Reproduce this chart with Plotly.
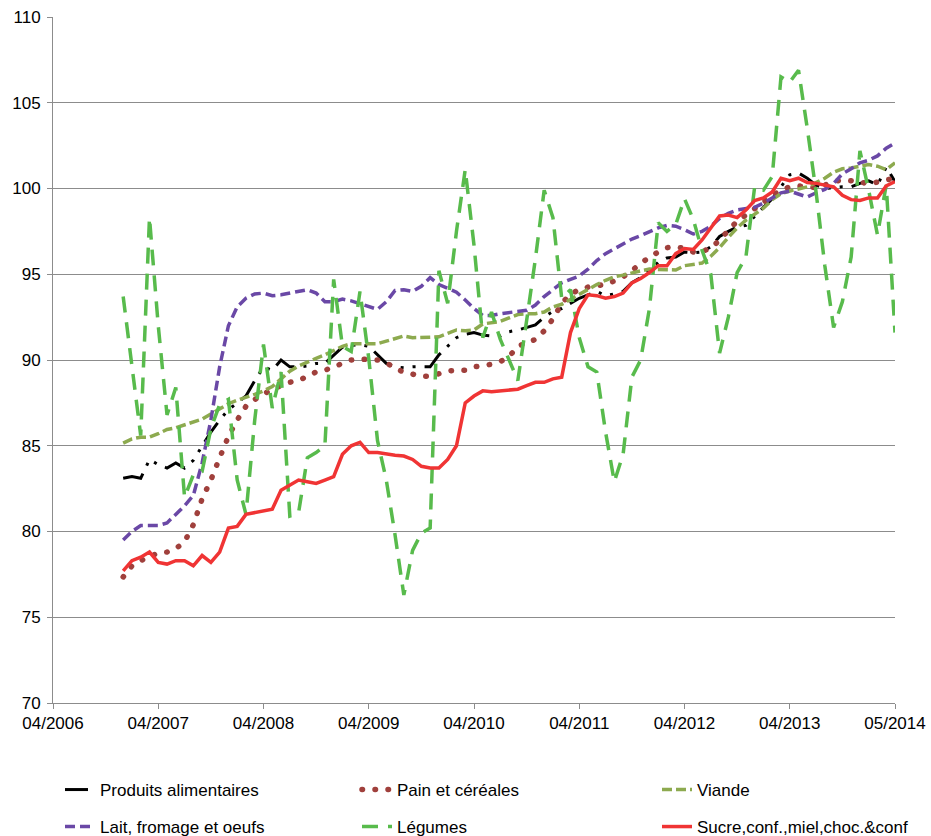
import plotly.graph_objects as go

# ---------------- data (monthly index values) ----------------
first_month_index = 8   # months after 04/2006 of the first observation

produits = [83.1, 83.2,
            83.1, 84.2, 83.9, 83.7, 84.0, 83.7, 84.15, 84.95, 85.8, 86.5,
            87.1, 87.5, 87.9, 88.8, 89.6, 89.4, 90.0, 89.6, 89.6, 89.65,
            89.8, 89.8, 90.3, 90.75, 90.85, 90.9, 90.8, 90.3, 89.8, 89.6,
            89.55, 89.6, 89.6, 89.6, 90.3, 90.8, 91.3, 91.5, 91.6, 91.45,
            91.4, 91.4, 91.65, 91.75, 91.9, 92.05, 92.5, 92.85, 93.0, 93.3,
            93.6, 93.8, 94.0, 93.75, 93.85, 94.0, 94.5, 94.8, 95.2, 95.7,
            95.95, 96.0, 96.3, 96.25, 96.3, 96.6, 97.2, 97.5, 97.75, 97.85,
            98.4, 98.9, 99.4, 100.1, 100.8, 100.9, 100.6, 100.2, 100.0, 100.05,
            100.1, 100.1, 100.3, 100.45, 100.2, 101.25, 100.4]

pain = [77.35, 78.0,
        78.3, 78.55, 78.75, 78.8, 79.0, 79.4, 80.4, 81.9, 83.0, 84.3,
        85.55, 86.5, 87.3, 87.7, 88.0, 88.3, 88.5, 88.7, 88.8, 89.05,
        89.3, 89.4, 89.6, 89.85, 90.0, 90.05, 90.05, 90.0, 89.85, 89.5,
        89.3, 89.15, 89.05, 89.05, 89.2, 89.35, 89.4, 89.4, 89.6, 89.65,
        89.75, 89.9, 90.2, 90.8, 91.0, 91.2, 91.7, 92.4, 93.3, 93.85,
        94.1, 94.25, 94.3, 94.45, 94.6, 94.85, 95.2, 95.65, 96.0, 96.3,
        96.55, 96.6, 96.5, 96.3, 96.35, 96.5, 97.0, 97.6, 98.1, 98.45,
        98.8, 99.2, 99.6, 99.9, 100.1, 100.15, 100.1, 100.05, 100.2, 100.4,
        100.5, 100.45, 100.4, 100.25, 100.4, 100.5, 100.6]

viande = [85.15, 85.4,
          85.5, 85.5, 85.7, 85.95, 86.05, 86.2, 86.35, 86.55, 86.85, 87.15,
          87.45, 87.65, 87.8, 88.0, 88.2, 88.45, 88.9, 89.35, 89.65, 89.9,
          90.1, 90.3, 90.55, 90.8, 90.95, 90.95, 90.95, 90.95, 91.1, 91.25,
          91.4, 91.3, 91.3, 91.35, 91.35, 91.55, 91.75, 91.7, 91.75, 92.1,
          92.2, 92.25, 92.45, 92.65, 92.7, 92.7, 92.8, 93.1, 93.25, 93.55,
          93.85, 94.15, 94.4, 94.65, 94.85, 94.95, 95.1, 95.2, 95.3, 95.3,
          95.3, 95.25, 95.5, 95.6, 95.65, 96.05, 96.55, 97.15, 97.7, 98.15,
          98.5, 98.85, 99.35, 99.7, 99.85, 99.95, 100.1, 100.35, 100.6, 100.95,
          101.15, 101.2, 101.3, 101.4, 101.3, 101.1, 101.5]

lait = [79.5, 80.0,
        80.35, 80.35, 80.35, 80.5, 81.0, 81.5, 82.1, 84.0, 86.5, 89.6,
        92.0, 93.1, 93.6, 93.85, 93.9, 93.75, 93.8, 93.9, 94.0, 94.1,
        93.9, 93.4, 93.4, 93.55, 93.45, 93.3, 93.15, 92.95, 93.4, 94.05,
        94.1, 94.0, 94.3, 94.8, 94.4, 94.15, 93.95, 93.5, 93.0, 92.6,
        92.6, 92.7, 92.75, 92.85, 92.9, 93.2, 93.7, 94.1, 94.5, 94.7,
        94.9, 95.3, 95.8, 96.2, 96.5, 96.8, 97.05, 97.25, 97.5, 97.7,
        97.85, 97.8, 97.6, 97.35, 97.5, 97.8, 98.25, 98.55, 98.75, 98.85,
        98.9, 99.15, 99.45, 99.75, 99.85, 99.65, 99.5, 99.75, 99.95, 100.3,
        100.85, 101.15, 101.5, 101.65, 101.9, 102.35, 102.65]

legumes = [93.7, 89.5,
           85.6, 98.3, 92.0, 86.8, 88.4, 82.0, 83.3, 83.5, 86.0, 87.4,
           87.7, 83.0, 81.0, 86.5, 90.9, 87.2, 89.3, 80.9, 81.1, 84.3,
           84.6, 85.0, 94.7, 90.8, 90.5, 94.0, 90.1, 85.3, 83.0, 79.8,
           76.3, 78.9, 79.9, 80.2, 95.2, 93.3, 97.5, 101.1, 96.7, 91.3,
           92.8, 91.2, 90.0, 88.8, 92.3, 95.9, 99.9, 98.3, 93.6, 94.1,
           91.3, 89.6, 89.3, 85.8, 82.9, 84.5, 89.0, 90.0, 93.0, 98.0,
           97.5, 97.9, 99.4, 98.2, 96.4, 95.0, 90.4, 92.5, 95.1, 96.0,
           100.1, 99.9, 100.7, 106.5, 106.2, 106.9, 103.5, 99.8, 95.5, 91.9,
           93.4, 96.0, 102.2, 99.9, 97.3, 100.2, 91.6]

sucre = [77.7, 78.3,
         78.5, 78.8, 78.2, 78.1, 78.3, 78.3, 78.0, 78.6, 78.2, 78.8,
         80.2, 80.3, 81.0, 81.1, 81.2, 81.3, 82.4, 82.7, 83.0, 82.9,
         82.8, 83.0, 83.2, 84.5, 85.0, 85.2, 84.6, 84.6, 84.5, 84.45,
         84.4, 84.2, 83.8, 83.7, 83.7, 84.2, 85.0, 87.5, 87.9, 88.2,
         88.15, 88.2, 88.2, 88.3, 88.5, 88.7, 88.7, 88.9, 89.0, 91.6,
         93.0, 93.8, 93.75, 93.6, 93.7, 93.9, 94.5, 94.75, 95.1, 95.5,
         95.5, 96.2, 96.5, 96.45, 97.0, 97.7, 98.4, 98.45, 98.3, 98.75,
         99.3, 99.45, 99.8, 100.6, 100.45, 100.6, 100.35, 100.3, 100.2, 100.1,
         99.6, 99.35, 99.3, 99.45, 99.45, 100.15, 100.4]

tick_labels = ["04/2006", "04/2007", "04/2008", "04/2009", "04/2010",
               "04/2011", "04/2012", "04/2013", "05/2014"]
tick_positions = [12 * k for k in range(len(tick_labels))]

# name, values, colour, width, dash
series = [
    ("Produits alimentaires", produits, "#000000", 3, "23px,9px,3px,9px,3px,9px"),
    ("Pain et céréales", pain, "#A0403C", 5.5, "0.5px,12.5px"),
    ("Viande", viande, "#8DAA4F", 3.5, "10px,4px"),
    ("Lait, fromage et oeufs", lait, "#6A48A6", 3.5, "10px,5px"),
    ("Légumes", legumes, "#58BB4C", 3.5, "16px,10px"),
    ("Sucre,conf.,miel,choc.&conf", sucre, "#F03434", 3.5, "solid"),
]

# legend slots: 3 columns x 2 rows (container pixel anchors)
W, H = 931, 836
legend_cols = [60, 357, 657]
legend_rows = [790, 827]

font_family = "Liberation Sans, Arial, sans-serif"
grid_col = "#8C8C8C"

fig = go.Figure()
legend_layouts = {}
for k, (name, vals, color, width, dash) in enumerate(series):
    xs = list(range(first_month_index, first_month_index + len(vals)))
    leg_id = "legend" if k == 0 else f"legend{k + 1}"
    fig.add_trace(go.Scatter(
        x=xs, y=vals, name=name, mode="lines",
        line=dict(color=color, width=width, dash=dash),
        legend=leg_id,
    ))
    col, row = k % 3, k // 3
    legend_layouts[leg_id] = dict(
        xref="container", yref="container",
        x=legend_cols[col] / W, xanchor="left",
        y=1 - legend_rows[row] / H, yanchor="middle",
        orientation="h", bgcolor="rgba(0,0,0,0)",
        font=dict(family=font_family, size=17, color="#000000"),
    )

fig.update_layout(
    width=W, height=H,
    margin=dict(l=53, r=36, t=17, b=133, autoexpand=False),
    paper_bgcolor="white", plot_bgcolor="white",
    font=dict(family=font_family, size=17, color="#000000"),
    showlegend=True,
    **legend_layouts,
)

fig.update_xaxes(
    range=[0, 96], tickmode="array", tickvals=tick_positions, ticktext=tick_labels,
    showgrid=False, zeroline=False, showline=True, linecolor=grid_col, linewidth=1,
    ticks="outside", ticklen=5, tickcolor=grid_col, tickwidth=1, automargin=False,
    tickfont=dict(family=font_family, size=17),
)
fig.update_yaxes(
    range=[70, 110], dtick=5, tick0=70,
    showgrid=True, gridcolor=grid_col, gridwidth=1, zeroline=False,
    showline=True, linecolor=grid_col, linewidth=1, automargin=False,
    ticks="outside", ticklen=5, tickcolor=grid_col, tickwidth=1,
    ticklabelstandoff=3,
    tickfont=dict(family=font_family, size=17),
)

post = """
document.body.style.margin = '0';
document.body.style.padding = '0';
document.querySelectorAll('path.js-line').forEach(function(p){
  if (p.style.stroke === 'rgb(160, 64, 60)') { p.style.strokeLinecap = 'round'; }
});
"""
fig.write_html("out.html", post_script=post,
               config={"displayModeBar": False, "staticPlot": True})
